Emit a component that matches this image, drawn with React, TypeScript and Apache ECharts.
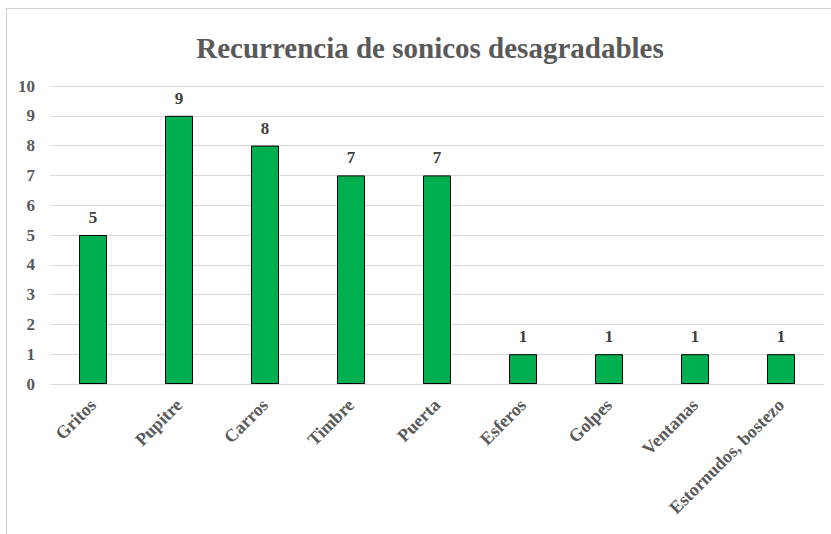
import React, { useEffect, useRef } from "react";
import * as echarts from "echarts";

const categories = ["Gritos", "Pupitre", "Carros", "Timbre", "Puerta", "Esferos", "Golpes", "Ventanas", "Estornudos, bostezo"];
const values = [5, 9, 8, 7, 7, 1, 1, 1, 1];
const titleText = "Recurrencia de sonicos desagradables";

export default function App() {
  const ref = useRef<HTMLDivElement>(null);
  useEffect(() => {
    if (!ref.current) return;
    const chart = echarts.init(ref.current, null, { renderer: "svg" });
    const font = "'Liberation Serif', 'Times New Roman', serif";
    chart.setOption({
      animation: false,
      backgroundColor: "#ffffff",
      title: {
        text: titleText,
        left: 425,
        textAlign: "center",
        top: 28,
        textStyle: { fontFamily: font, fontWeight: "bold", fontSize: 29, color: "#595959" },
      },
      graphic: [
        { type: "line", shape: { x1: 6.5, y1: 8.5, x2: 831, y2: 8.5 }, style: { stroke: "#d0d0d0", lineWidth: 1 } },
        { type: "line", shape: { x1: 6.5, y1: 8.5, x2: 6.5, y2: 534 }, style: { stroke: "#d0d0d0", lineWidth: 1 } },
      ],
      grid: { left: 50, right: 7, top: 86, bottom: 150, containLabel: false },
      xAxis: {
        type: "category",
        data: categories,
        axisLine: { show: true, lineStyle: { color: "#d9d9d9", width: 1 } },
        axisTick: { show: false },
        axisLabel: {
          rotate: 45,
          interval: 0,
          margin: 18,
          fontFamily: font,
          fontWeight: "bold",
          fontSize: 18,
          color: "#595959",
        },
      },
      yAxis: {
        type: "value",
        min: 0,
        max: 10,
        interval: 1,
        axisLine: { show: false },
        axisTick: { show: false },
        splitLine: { lineStyle: { color: "#d9d9d9", width: 1 } },
        axisLabel: { margin: 15, fontFamily: font, fontWeight: "bold", fontSize: 17, color: "#595959" },
      },
      series: [
        {
          type: "bar",
          data: values,
          barWidth: 28,
          itemStyle: { color: "#00B050", borderColor: "#000000", borderWidth: 1 },
          label: {
            show: true,
            position: "top",
            distance: 9,
            fontFamily: font,
            fontWeight: "bold",
            fontSize: 17,
            color: "#404040",
          },
        },
      ],
    });
    return () => chart.dispose();
  }, []);
  return <div ref={ref} style={{ position: "fixed", left: 0, top: 0, width: 831, height: 534 }} />;
}
